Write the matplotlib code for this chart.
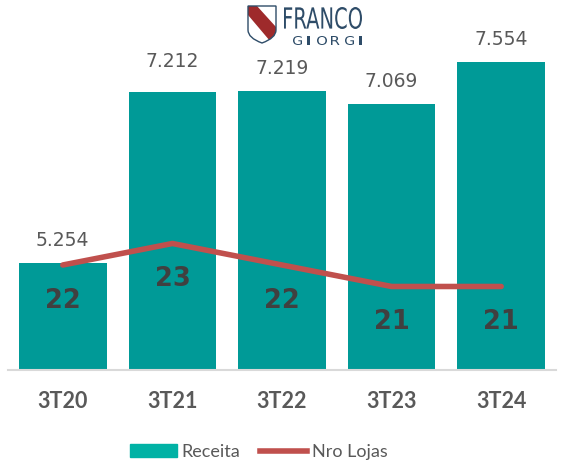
import matplotlib.pyplot as plt
from matplotlib.font_manager import FontProperties
from matplotlib.lines import Line2D
from matplotlib.patches import Patch, PathPatch, Polygon
from matplotlib.path import Path
from matplotlib.textpath import TextPath
from matplotlib.transforms import Affine2D

periodos = ["3T20", "3T21", "3T22", "3T23", "3T24"]
receita = [5.254, 7.212, 7.219, 7.069, 7.554]
receita_txt = ["5.254", "7.212", "7.219", "7.069", "7.554"]
nro_lojas = [22, 23, 22, 21, 21]

TEAL = "#009A97"
RED = "#C0504D"
GRAY = "#595959"
NAVY = "#2E4C68"

W, H = 564, 463


def text_in_box(ax, s, x0, x1, y0, y1, family="Liberation Sans Narrow", color=NAVY):
    # fit a text path into a pixel box (y grows downward)
    tp = TextPath((0, 0), s, size=1, prop=FontProperties(family=family))
    ext = tp.get_extents()
    sx = (x1 - x0) / ext.width
    sy = (y1 - y0) / ext.height
    tr = Affine2D().translate(-ext.x0, -ext.y0).scale(sx, -sy).translate(x0, y1)
    ax.add_patch(PathPatch(tr.transform_path(tp), fc=color, ec="none"))


def main():
    fig = plt.figure(figsize=(W / 100, H / 100), dpi=100)
    ax = fig.add_axes([8 / W, 93 / H, 548 / W, 350 / H])
    x = range(len(periodos))

    ax.bar(x, receita, width=0.8, color=TEAL, zorder=2)
    ax.set_xlim(-0.5, 4.5)
    ax.set_ylim(4.03, 8.035)
    for s in ["top", "left", "right"]:
        ax.spines[s].set_visible(False)
    ax.spines["bottom"].set_color("#D9D9D9")
    ax.spines["bottom"].set_linewidth(1.5)
    ax.set_yticks([])
    ax.set_xticks(list(x))
    ax.set_xticklabels(periodos, fontfamily="Lato", fontweight="bold",
                       fontsize=15.5, color=GRAY)
    ax.tick_params(axis="x", length=0, pad=15)

    offs = [23, 30, 23, 23, 23]
    for i, (v, t) in enumerate(zip(receita, receita_txt)):
        ax.annotate(t, (i, v), xytext=(0, offs[i]), textcoords="offset pixels",
                    ha="center", va="center", fontsize=13.5, color=GRAY,
                    fontfamily="DejaVu Sans")

    ax2 = ax.twinx()
    ax2.plot(x, nro_lojas, color=RED, lw=4, solid_capstyle="round", zorder=3)
    ax2.set_ylim(17.116, 33.395)
    ax2.axis("off")
    for i, n in enumerate(nro_lojas):
        ax2.annotate(str(n), (i, n), xytext=(0, -36), textcoords="offset pixels",
                     ha="center", va="center", fontsize=18.5, fontweight="bold",
                     color="#404040", fontfamily="DejaVu Sans")

    handles = [Patch(color="#00B2A5"), Line2D([0], [0], color=RED, lw=4)]
    fig.legend(handles, ["Receita", "Nro Lojas"], loc="center",
               bbox_to_anchor=(259 / W, 1 - 452 / H), ncol=2, frameon=False,
               prop=FontProperties(family="Lato", size=13), labelcolor=GRAY,
               handlelength=2.6, handletextpad=0.25, columnspacing=1.1)

    # logo
    lg = fig.add_axes([240 / W, 1 - 50 / H, 130 / W, 50 / H])
    lg.set_xlim(240, 370)
    lg.set_ylim(50, 0)
    lg.axis("off")
    shield = Path([(248, 6), (276, 6), (276, 30), (276, 38), (262, 43),
                   (248, 38), (248, 30), (248, 6)],
                  [Path.MOVETO, Path.LINETO, Path.LINETO, Path.CURVE3,
                   Path.CURVE3, Path.CURVE3, Path.CURVE3, Path.CLOSEPOLY])
    sp = PathPatch(shield, fc="white", ec="none", zorder=1)
    lg.add_patch(sp)
    band = Polygon([(248, 6), (257, 6), (276, 27), (276, 38), (270, 41), (248, 15)],
                   closed=True, fc="#9E2A2B", ec="none", zorder=2)
    lg.add_patch(band)
    band.set_clip_path(sp)
    lg.add_patch(PathPatch(shield, fc="none", ec=NAVY, lw=1.0, zorder=4))

    text_in_box(lg, "FRANCO", 284, 362, 7, 29)
    letters = "GIORGI"
    xs = [293, 307, 317, 331, 345, 359]
    ws = [9, 2.5, 10, 8.5, 9, 2.5]
    for ch, x0, w in zip(letters, xs, ws):
        text_in_box(lg, ch, x0, x0 + w, 36, 45, family="DejaVu Sans")

    fig.savefig("out.png", dpi=100)


if __name__ == "__main__":
    main()
